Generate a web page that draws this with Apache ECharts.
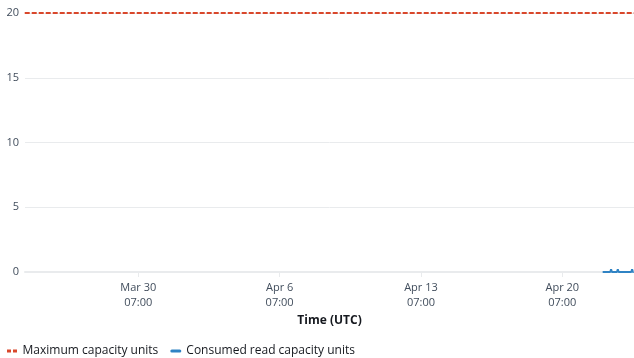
<!DOCTYPE html>
<html>
<head>
<meta charset="utf-8">
<script src="https://cdn.jsdelivr.net/npm/echarts@6/dist/echarts.min.js"></script>
<style>
  html, body { margin: 0; padding: 0; background: #fff; }
  #chart { width: 634px; height: 358px; }
</style>
</head>
<body>
<div id="chart"></div>
<script>
// Visible time window (UTC)
const windowStart = '2025-03-24T16:20:00Z';
const windowEnd = '2025-04-23T20:15:00Z';

// Weekly tick marks on the time axis
const tickTimes = [
  '2025-03-30T07:00:00Z',
  '2025-04-06T07:00:00Z',
  '2025-04-13T07:00:00Z',
  '2025-04-20T07:00:00Z'
];

// Y axis ticks
const yTicks = [0, 5, 10, 15, 20];

// Provisioned maximum capacity (flat over the whole window)
const maxCapacityTimes = ['2025-03-24T16:00:00Z', '2025-04-23T21:00:00Z'];
const maxCapacityValues = [20, 20];

// Consumed read capacity, hourly samples
const consumedTimes = [
  '2025-04-22T07:00:00Z', '2025-04-22T16:00:00Z', '2025-04-22T17:00:00Z', '2025-04-22T18:00:00Z',
  '2025-04-23T00:00:00Z', '2025-04-23T01:00:00Z', '2025-04-23T02:00:00Z',
  '2025-04-23T17:00:00Z', '2025-04-23T18:00:00Z', '2025-04-23T19:00:00Z', '2025-04-23T20:00:00Z'
];
const consumedValues = [0, 0, 0.2, 0, 0, 0.2, 0, 0, 0.2, 0, 0];

const RED = '#d9472b';
const BLUE = '#2f83c4';

const MONTHS = ['Jan','Feb','Mar','Apr','May','Jun','Jul','Aug','Sep','Oct','Nov','Dec'];
const pad = n => String(n).padStart(2, '0');
function fmtTick(v) {
  const d = new Date(v);
  return MONTHS[d.getUTCMonth()] + ' ' + d.getUTCDate() + '\n' +
    pad(d.getUTCHours()) + ':' + pad(d.getUTCMinutes());
}
const ts = s => new Date(s).getTime();
const pairs = (times, vals) => times.map((t, i) => [ts(t), vals[i]]);

const chart = echarts.init(document.getElementById('chart'), null, { renderer: 'canvas' });
const font = '"Open Sans", "Noto Sans", sans-serif';

chart.setOption({
  animation: false,
  textStyle: { fontFamily: font },
  grid: { left: 25, right: 0, top: 13, bottom: 86, containLabel: false },
  xAxis: {
    type: 'value',
    min: ts(windowStart),
    max: ts(windowEnd),
    name: 'Time (UTC)',
    nameLocation: 'middle',
    nameGap: 40,
    nameTextStyle: { fontFamily: font, fontSize: 12, fontWeight: 'bold', color: '#16191f' },
    axisLine: { show: true, lineStyle: { color: '#e9ebed', width: 2 } },
    axisTick: {
      show: true, length: 5, inside: false,
      lineStyle: { color: '#e9ebed', width: 1 },
      customValues: tickTimes.map(ts)
    },
    axisLabel: {
      customValues: tickTimes.map(ts),
      formatter: fmtTick,
      fontFamily: font, fontSize: 11, color: '#414d5c',
      lineHeight: 15, margin: 8
    },
    splitLine: { show: false }
  },
  yAxis: {
    type: 'value',
    min: yTicks[0],
    max: yTicks[yTicks.length - 1],
    interval: 5,
    axisLine: { show: false },
    axisTick: { show: false },
    axisLabel: { fontFamily: font, fontSize: 11, color: '#414d5c', margin: 6 },
    splitLine: { show: true, lineStyle: { color: '#e9ebed', width: 1 } }
  },
  legend: {
    left: 7,
    top: 345,
    padding: 0,
    itemWidth: 11,
    itemHeight: 3,
    itemGap: 12,
    textStyle: { fontFamily: font, fontSize: 12, color: '#16191f' },
    data: [
      { name: 'Maximum capacity units', icon: 'path://M0,0h4v3h-4z M6,0h4v3h-4z' },
      { name: 'Consumed read capacity units', icon: 'path://M1.5,0h8a1.5,1.5 0 0 1 0,3h-8a1.5,1.5 0 0 1 0,-3z' }
    ]
  },
  series: [
    {
      name: 'Maximum capacity units',
      type: 'line',
      symbol: 'none',
      data: pairs(maxCapacityTimes, maxCapacityValues),
      lineStyle: { color: RED, width: 2, type: [5, 2] },
      itemStyle: { color: RED },
      z: 3
    },
    {
      name: 'Consumed read capacity units',
      type: 'line',
      symbol: 'none',
      data: pairs(consumedTimes, consumedValues),
      lineStyle: { color: BLUE, width: 2 },
      itemStyle: { color: BLUE },
      z: 2
    }
  ]
});
</script>
</body>
</html>
